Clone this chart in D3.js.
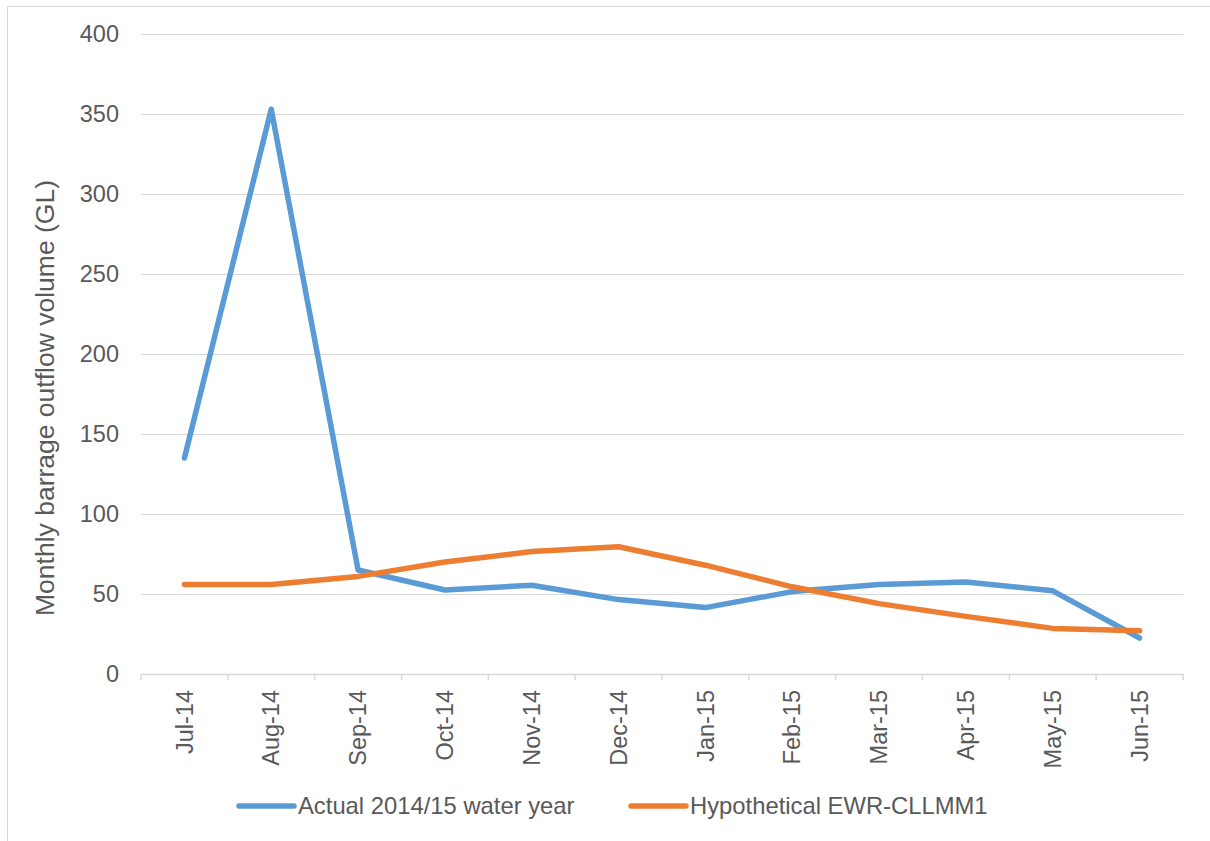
<!DOCTYPE html>
<html>
<head>
<meta charset="utf-8">
<script src="https://cdn.jsdelivr.net/npm/d3@7"></script>
<style>
  body { margin: 0; background: #fff; }
  svg text { font-family: "Liberation Sans", Arial, sans-serif; fill: #595959; }
</style>
</head>
<body>
<div id="chart"></div>
<script>
// data
var months = ["Jul-14", "Aug-14", "Sep-14", "Oct-14", "Nov-14", "Dec-14",
              "Jan-15", "Feb-15", "Mar-15", "Apr-15", "May-15", "Jun-15"];
var actual = [135, 353, 65, 52.5, 55.5, 46.5, 41.5, 51.5, 56, 57.5, 52, 22.5];
var hypothetical = [56, 56, 61, 70, 76.5, 79.5, 68, 54.5, 44, 36, 28.5, 27];
var yTicks = [0, 50, 100, 150, 200, 250, 300, 350, 400];
var seriesNames = ["Actual 2014/15 water year", "Hypothetical EWR-CLLMM1"];
var seriesColors = ["#5B9BD5", "#ED7D31"];

var width = 1210,
  height = 841;
var margin = { top: 34, right: 27, bottom: 167, left: 141 },
  w = width - margin.left - margin.right,
  h = height - margin.top - margin.bottom;

var svg = d3
  .select("#chart")
  .append("svg")
  .attr("width", width)
  .attr("height", height);

// outer chart border
svg
  .append("rect")
  .attr("x", 7.5)
  .attr("y", 6.5)
  .attr("width", width + 10)
  .attr("height", height + 10)
  .attr("fill", "none")
  .attr("stroke", "#D9D9D9")
  .attr("stroke-width", 1);

var g = svg
  .append("g")
  .attr("transform", "translate(" + margin.left + "," + margin.top + ")");

var x = d3.scaleBand().domain(months).range([0, w]);
var y = d3.scaleLinear().domain([0, 400]).range([h, 0]);

// gridlines + y labels
var yAxis = g
  .append("g")
  .call(d3.axisLeft(y).tickValues(yTicks).tickSize(-w).tickPadding(22));
yAxis.select(".domain").remove();
yAxis.selectAll(".tick line").attr("stroke", "#D9D9D9").attr("stroke-width", 1);
yAxis
  .selectAll(".tick text")
  .attr("font-size", 23.5)
  .style("font-family", "'Liberation Sans', Arial, sans-serif")
  .attr("fill", "#595959");

// x axis with ticks at category boundaries
var xAxis = g
  .append("g")
  .attr("transform", "translate(0," + h + ")")
  .call(d3.axisBottom(x).tickSize(0));
xAxis.select(".domain").attr("stroke", "#D9D9D9").attr("stroke-width", 1.5);
xAxis
  .selectAll(".tick text")
  .attr("font-size", 23.5)
  .style("font-family", "'Liberation Sans', Arial, sans-serif")
  .attr("fill", "#595959")
  .attr("text-anchor", "end")
  .attr("transform", "rotate(-90)")
  .attr("x", -16)
  .attr("y", 0)
  .attr("dy", "0.35em");

var bounds = months.map(function (m) { return x(m); }).concat([w]);
xAxis
  .selectAll(".bound")
  .data(bounds)
  .enter()
  .append("line")
  .attr("class", "bound")
  .attr("x1", function (d) { return d; })
  .attr("x2", function (d) { return d; })
  .attr("y1", 0)
  .attr("y2", 6)
  .attr("stroke", "#D9D9D9")
  .attr("stroke-width", 1.5);

// lines
var line = d3
  .line()
  .x(function (d, i) { return x(months[i]) + x.bandwidth() / 2; })
  .y(function (d) { return y(d); });

[actual, hypothetical].forEach(function (s, i) {
  g.append("path")
    .datum(s)
    .attr("d", line)
    .attr("fill", "none")
    .attr("stroke", seriesColors[i])
    .attr("stroke-width", 5.5)
    .attr("stroke-linejoin", "round")
    .attr("stroke-linecap", "round");
});

// y axis title
svg
  .append("text")
  .attr("transform", "translate(54,398)rotate(-90)")
  .attr("text-anchor", "middle")
  .attr("font-size", 26.5)
  .text("Monthly barrage outflow volume (GL)");

// legend
var legendX = [239, 631];
var legend = svg
  .selectAll(".legend")
  .data(seriesNames)
  .enter()
  .append("g")
  .attr("class", "legend")
  .attr("transform", function (d, i) { return "translate(" + legendX[i] + ",806)"; });
legend
  .append("line")
  .attr("x1", 0)
  .attr("x2", 55)
  .attr("stroke", function (d, i) { return seriesColors[i]; })
  .attr("stroke-width", 5.5)
  .attr("stroke-linecap", "round");
legend
  .append("text")
  .attr("x", 59)
  .attr("dy", "0.35em")
  .attr("font-size", 23.8)
  .text(function (d) { return d; });
</script>
</body>
</html>
